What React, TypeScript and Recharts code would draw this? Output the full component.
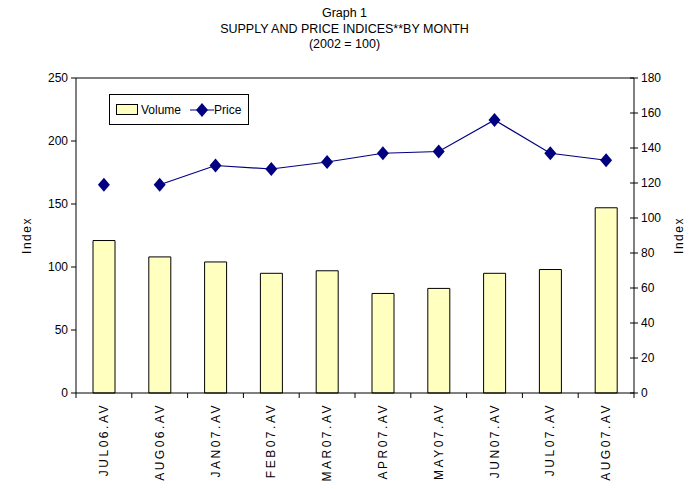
import React from "react";
import { ComposedChart, Bar, Line, XAxis, YAxis, ReferenceLine } from "recharts";

const MONTHS = ["JUL06.AV", "AUG06.AV", "JAN07.AV", "FEB07.AV", "MAR07.AV", "APR07.AV", "MAY07.AV", "JUN07.AV", "JUL07.AV", "AUG07.AV"];
const VOLUME = [121, 108, 104, 95, 97, 79, 83, 95, 98, 147];
const PRICE = [119, 119, 130, 128, 132, 137, 138, 156, 137, 133];
// the price line is only drawn from AUG06 on in the original
const PRICE_LINE_FROM = 1;
const LEFT_TICKS = [0, 50, 100, 150, 200, 250];
const RIGHT_TICKS = [0, 20, 40, 60, 80, 100, 120, 140, 160, 180];

const data = MONTHS.map((m, i) => ({
  month: m,
  volume: VOLUME[i],
  price: PRICE[i],
  priceLine: i >= PRICE_LINE_FROM ? PRICE[i] : null,
}));

const W = 689;
const H = 489;
const LEFT = 76;
const RIGHT = 55;
const TOP = 78;
const BOTTOM = 96;
const FONT = "'Liberation Sans', Arial, sans-serif";
const NAVY = "#000080";
const YELLOW = "#FFFFC0";
const step = (W - LEFT - RIGHT) / MONTHS.length;

const Diamond = (props: any) => {
  const { cx, cy } = props;
  if (cx == null || cy == null) return null;
  return <polygon points={`${cx},${cy - 7} ${cx + 6},${cy} ${cx},${cy + 7} ${cx - 6},${cy}`} fill={NAVY} />;
};

const XTick = (props: any) => {
  const { x, y, payload, index } = props;
  return (
    <g>
      <line x1={x - step / 2} x2={x - step / 2} y1={y} y2={y + 5} stroke="#000" />
      {index === MONTHS.length - 1 && <line x1={x + step / 2} x2={x + step / 2} y1={y} y2={y + 5} stroke="#000" />}
      <text
        transform={`translate(${x},${y + 10}) rotate(-90)`}
        textAnchor="end"
        dominantBaseline="central"
        fontSize={12}
        letterSpacing={2.5}
        fontFamily={FONT}
        fill="#000"
      >
        {payload.value}
      </text>
    </g>
  );
};

// right axis ticks cross the axis line
const RightTick = (props: any) => {
  const { y, payload } = props;
  const ax = W - RIGHT;
  return (
    <g>
      <line x1={ax - 4} x2={ax + 4} y1={y} y2={y} stroke="#000" />
      <text x={ax + 7} y={y} dominantBaseline="central" fontSize={12} fontFamily={FONT} fill="#000">
        {payload.value}
      </text>
    </g>
  );
};

const LegendBox = () => (
  <div
    style={{
      position: "absolute",
      left: 109,
      top: 94,
      border: "1px solid #000",
      background: "#fff",
      width: 138,
      height: 29,
      display: "flex",
      alignItems: "center",
      fontFamily: FONT,
      fontSize: 12,
      boxSizing: "content-box",
    }}
  >
    <span style={{ display: "inline-block", width: 20, height: 9, background: YELLOW, border: "1px solid #000", marginLeft: 6, marginRight: 3 }} />
    <span>Volume</span>
    <svg width={24} height={16} style={{ marginLeft: 9 }}>
      <line x1={0} x2={24} y1={8} y2={8} stroke={NAVY} />
      <polygon points="12,1 18,8 12,15 6,8" fill={NAVY} />
    </svg>
    <span>Price</span>
  </div>
);

const axisLabel = { fill: "#000", fontSize: 12, letterSpacing: 1.5, fontFamily: FONT, textAnchor: "middle" as const };

export default function App() {
  return (
    <div style={{ position: "absolute", left: 0, top: 0, width: W, height: H, background: "#fff", fontFamily: FONT }}>
      <div style={{ position: "absolute", left: 0, top: 6, width: W, textAlign: "center", fontSize: 12.5, lineHeight: "15.5px", color: "#000" }}>
        <div>Graph 1</div>
        <div>SUPPLY AND PRICE INDICES**BY MONTH</div>
        <div>(2002 = 100)</div>
      </div>
      <ComposedChart width={W} height={H} data={data} margin={{ top: TOP, right: 0, left: 0, bottom: 0 }} barCategoryGap={0}>
        <XAxis
          dataKey="month"
          height={BOTTOM}
          axisLine={{ stroke: "#000" }}
          tickLine={false}
          tickSize={0}
          tickMargin={0}
          tick={<XTick />}
          interval={0}
        />
        <YAxis
          yAxisId="left"
          width={LEFT}
          domain={[0, 250]}
          ticks={LEFT_TICKS}
          axisLine={{ stroke: "#000" }}
          tickLine={{ stroke: "#000" }}
          tickSize={5}
          tickMargin={3}
          tick={{ fill: "#000", fontSize: 12, fontFamily: FONT }}
          label={{ value: "Index", angle: -90, position: "insideLeft", offset: 27, style: axisLabel }}
        />
        <YAxis
          yAxisId="right"
          orientation="right"
          width={RIGHT}
          domain={[0, 180]}
          ticks={RIGHT_TICKS}
          axisLine={{ stroke: "#000" }}
          tickLine={false}
          tick={<RightTick />}
          label={{ value: "Index", angle: -90, position: "insideRight", offset: 10, style: axisLabel }}
        />
        <ReferenceLine yAxisId="left" y={250} stroke="#000" />
        <Bar yAxisId="left" dataKey="volume" name="Volume" fill={YELLOW} stroke="#000" barSize={22} isAnimationActive={false} />
        <Line yAxisId="right" dataKey="priceLine" stroke={NAVY} strokeWidth={1.2} dot={false} activeDot={false} legendType="none" isAnimationActive={false} />
        <Line yAxisId="right" dataKey="price" name="Price" stroke="none" dot={<Diamond />} activeDot={false} isAnimationActive={false} />
      </ComposedChart>
      <LegendBox />
    </div>
  );
}
